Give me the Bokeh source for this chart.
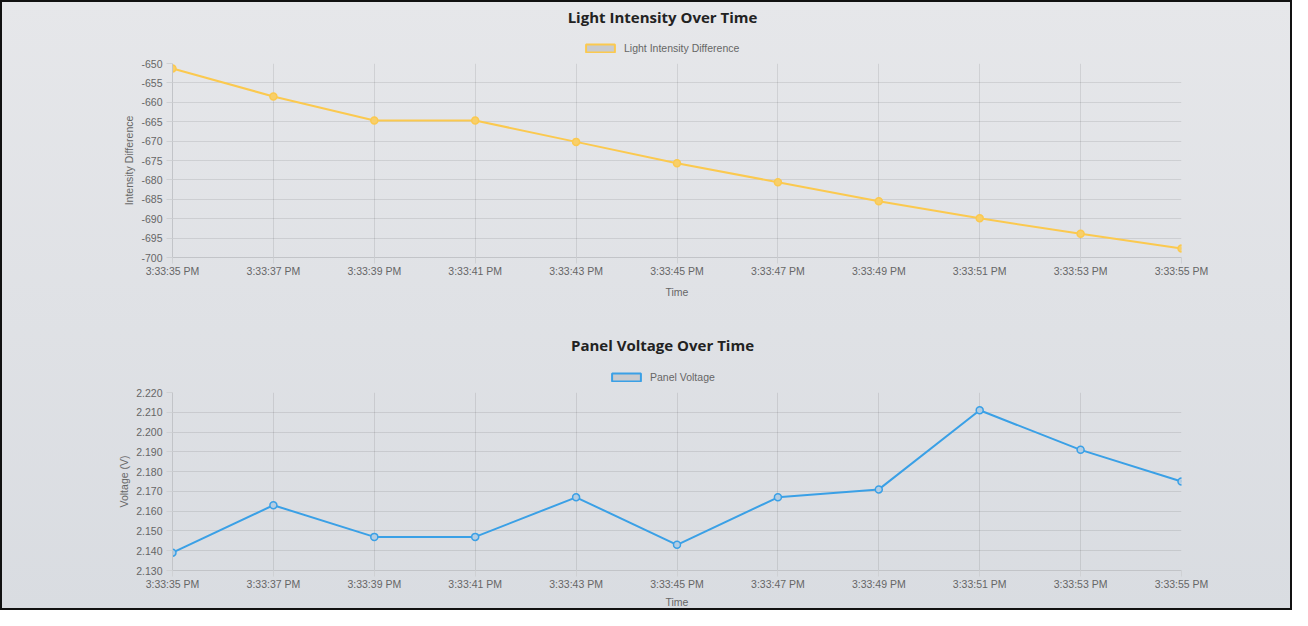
from bokeh.plotting import figure
from bokeh.models import Range1d, FixedTicker, Legend, LegendItem, PrintfTickFormatter, Label
from bokeh.layouts import column
from bokeh.embed import file_html
from bokeh.resources import INLINE

time_labels = ["3:33:35 PM", "3:33:37 PM", "3:33:39 PM", "3:33:41 PM", "3:33:43 PM", "3:33:45 PM",
               "3:33:47 PM", "3:33:49 PM", "3:33:51 PM", "3:33:53 PM", "3:33:55 PM"]
intensity_diff = [-651.3, -658.5, -664.7, -664.7, -670.2, -675.7, -680.6, -685.5, -689.9, -693.9, -697.7]
panel_voltage = [2.139, 2.163, 2.147, 2.147, 2.167, 2.143, 2.167, 2.171, 2.211, 2.191, 2.175]
intensity_ticks = [-700, -695, -690, -685, -680, -675, -670, -665, -660, -655, -650]
voltage_ticks = [2.13, 2.14, 2.15, 2.16, 2.17, 2.18, 2.19, 2.20, 2.21, 2.22]

TICK_FONT = "Liberation Sans"
TITLE_FONT = "Open Sans"
W = 1292
FRAME_LEFT = 172


def make_header(title, legend_label, color, height, title_y, legend_left):
    h = figure(width=W, height=height, x_range=Range1d(0, 1), y_range=Range1d(0, 1),
               output_backend="svg", toolbar_location=None, title=None,
               x_axis_type=None, y_axis_type=None, min_border=0)
    h.grid.visible = False
    h.outline_line_color = None
    h.background_fill_alpha = 0
    h.border_fill_alpha = 0
    h.add_layout(Label(x=662 - FRAME_LEFT, y=title_y, x_units="screen", y_units="screen", text=title,
                       text_align="center", text_baseline="middle", text_font=TITLE_FONT,
                       text_font_size="15px", text_font_style="bold", text_color="#222222"))
    dummy = h.rect(x=[-10], y=[-10], width=1, height=1,
                   fill_color="#c9cbcf", line_color=color, line_width=2)
    leg = Legend(items=[LegendItem(label=legend_label, renderers=[dummy])], orientation="horizontal",
                 location=(legend_left - FRAME_LEFT, 1), background_fill_alpha=0, border_line_alpha=0,
                 label_text_font=TICK_FONT, label_text_font_size="10.5px", label_text_color="#666666",
                 glyph_width=36, glyph_height=10, label_height=12, label_standoff=6,
                 padding=0, margin=0)
    h.add_layout(leg, "center")
    return h


def make_chart(ylabel, yvals, yticks, color, pfill, height, top, bottom, time_standoff, fmt=None):
    xs = list(range(len(time_labels)))
    p = figure(width=W, height=height, x_range=Range1d(xs[0], xs[-1]),
               y_range=Range1d(yticks[0], yticks[-1]), output_backend="svg", toolbar_location=None,
               title=None, min_border_left=FRAME_LEFT, min_border_right=W - 1181, min_border_top=top,
               min_border_bottom=bottom)
    p.background_fill_alpha = 0
    p.border_fill_alpha = 0
    p.outline_line_color = None

    p.xaxis.ticker = FixedTicker(ticks=xs)
    p.xaxis.major_label_overrides = {i: t for i, t in zip(xs, time_labels)}
    p.yaxis.ticker = FixedTicker(ticks=yticks)
    if fmt:
        p.yaxis.formatter = PrintfTickFormatter(format=fmt)
    else:
        p.yaxis.major_label_overrides = {v: str(v) for v in yticks}
    p.xaxis.axis_label = "Time"
    p.yaxis.axis_label = ylabel
    for ax in (p.xaxis, p.yaxis):
        ax.axis_line_color = "#c2c4c8"
        ax.major_tick_line_color = "#cfd1d4"
        ax.major_tick_in = 0
        ax.major_tick_out = 6
        ax.minor_tick_line_color = None
        ax.major_label_text_font = TICK_FONT
        ax.major_label_text_font_size = "10.5px"
        ax.major_label_text_color = "#666666"
        ax.axis_label_text_font = TICK_FONT
        ax.axis_label_text_font_size = "10.5px"
        ax.axis_label_text_font_style = "normal"
        ax.axis_label_text_color = "#666666"
    p.xaxis.major_label_standoff = 1
    p.yaxis.major_label_standoff = 4
    p.xaxis.axis_label_standoff = time_standoff
    p.yaxis.axis_label_standoff = 3
    p.grid.grid_line_color = "#000000"
    p.grid.grid_line_alpha = 0.09

    p.line(xs, yvals, line_color=color, line_width=2)
    p.scatter(xs, yvals, size=7, fill_color=pfill, line_color=color, line_width=1.5)
    return p


h1 = make_header("Light Intensity Over Time", "Light Intensity Difference", "#fbc94f", 55, 39, 582)
p1 = make_chart("Intensity Difference", intensity_diff, intensity_ticks, "#fbc94f", "#f8cf6a",
                265, 8, 63, 6)
h2 = make_header("Panel Voltage Over Time", "Panel Voltage", "#3aa0e6", 64, 40, 608)
p2 = make_chart("Voltage (V)", panel_voltage, voltage_ticks, "#3aa0e6", "#b3cde3",
                226, 8, 39, 3, fmt="%.3f")

layout = column(h1, p1, h2, p2, spacing=0,
                styles={"background": "linear-gradient(#e6e7ea, #d9dce1)",
                        "box-shadow": "inset 0 0 0 2px #111111"})

open("out.html", "w").write(file_html(layout, INLINE))
